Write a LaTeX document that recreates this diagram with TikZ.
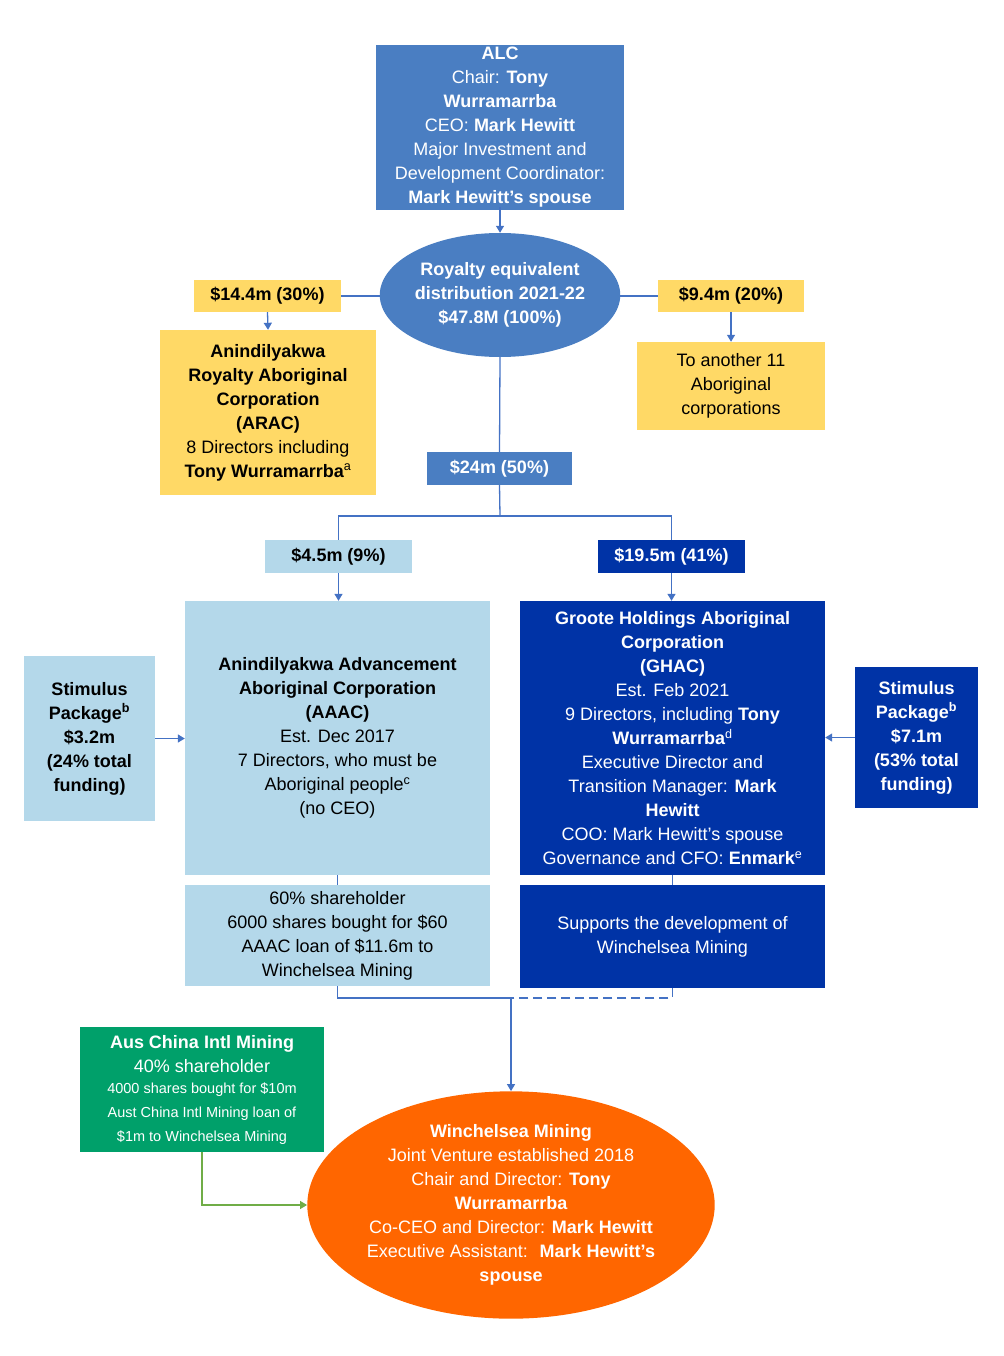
\documentclass[tikz,border=0pt]{standalone}
\usepackage{fontspec}
\setmainfont{Liberation Sans}
\usetikzlibrary{shapes.geometric,arrows.meta}
\definecolor{cALC}{HTML}{4A7EC2}
\definecolor{cYel}{HTML}{FFD966}
\definecolor{cLB}{HTML}{B4D8EA}
\definecolor{cDB}{HTML}{0033A6}
\definecolor{cGr}{HTML}{00A06A}
\definecolor{cOr}{HTML}{FF6600}
\definecolor{cLn}{HTML}{4472C4}
\definecolor{cGl}{HTML}{70AD47}
\begin{document}
\begin{tikzpicture}[x=1pt,y=-1pt,
 txt/.style={font=\fontsize{18}{24}\selectfont,align=center},
 box/.style={txt,draw=none,inner sep=0pt},
 ln/.style={draw=cLn,line width=1.3pt},
 arr/.style={ln,-{Triangle[length=7pt,width=8pt]}}]
\useasboundingbox (0,0) rectangle (1003,1356);
% boxes
\fill[cALC] (376,45) rectangle (624,210);
\node[box,text=white] (alc) at (500,127) {\textbf{ALC}\\Chair: \textbf{Tony}\\\textbf{Wurramarrba}\\CEO: \textbf{Mark Hewitt}\\Major Investment and\\Development Coordinator:\\\textbf{Mark Hewitt's spouse}};
\node[ellipse,fill=cALC,minimum width=216pt,minimum height=124pt,inner sep=0pt,txt,text=white,font=\bfseries\fontsize{18}{24}\selectfont] (roy) at (500,295) {Royalty equivalent\\distribution 2021-22\\\$47.8M (100\%)};
\node[box,fill=cYel,minimum width=147pt,minimum height=32pt,font=\bfseries\fontsize{18}{24}\selectfont] (l14) at (267.5,296) {\$14.4m (30\%)};
\node[box,fill=cYel,minimum width=146pt,minimum height=32pt,font=\bfseries\fontsize{18}{24}\selectfont] (l94) at (731,296) {\$9.4m (20\%)};
\node[box,fill=cYel,minimum width=216pt,minimum height=165pt] (arac) at (268,412.5) {\textbf{Anindilyakwa}\\\textbf{Royalty Aboriginal}\\\textbf{Corporation}\\\textbf{(ARAC)}\\8 Directors including\\\textbf{Tony Wurramarrba}\textsuperscript{a}};
\node[box,fill=cYel,minimum width=188pt,minimum height=88pt] (oth) at (731,386) {To another 11\\Aboriginal\\corporations};
\node[box,fill=cALC,text=white,minimum width=145pt,minimum height=33pt,font=\bfseries\fontsize{18}{24}\selectfont] (l24) at (499.5,468.5) {\$24m (50\%)};
\node[box,fill=cLB,minimum width=147pt,minimum height=33pt,font=\bfseries\fontsize{18}{24}\selectfont] (l45) at (338.5,556.5) {\$4.5m (9\%)};
\node[box,fill=cDB,text=white,minimum width=147pt,minimum height=33pt,font=\bfseries\fontsize{18}{24}\selectfont] (l195) at (671.5,556.5) {\$19.5m (41\%)};
\node[box,fill=cLB,minimum width=305pt,minimum height=274pt] (aaac) at (337.5,738) {\textbf{Anindilyakwa Advancement}\\\textbf{Aboriginal Corporation}\\\textbf{(AAAC)}\\Est. Dec 2017\\7 Directors, who must be\\Aboriginal people\textsuperscript{c}\\(no CEO)};
\node[box,fill=cLB,minimum width=305pt,minimum height=101pt] (aaac2) at (337.5,935.5) {60\% shareholder\\6000 shares bought for \$60\\AAAC loan of \$11.6m to\\Winchelsea Mining};
\node[box,fill=cDB,text=white,minimum width=305pt,minimum height=274pt] (ghac) at (672.5,738) {\textbf{Groote Holdings Aboriginal}\\\textbf{Corporation}\\\textbf{(GHAC)}\\Est. Feb 2021\\9 Directors, including \textbf{Tony}\\\textbf{Wurramarrba}\textsuperscript{d}\\Executive Director and\\Transition Manager: \textbf{Mark}\\\textbf{Hewitt}\\COO: Mark Hewitt's spouse\\Governance and CFO: \textbf{Enmark}\textsuperscript{e}};
\node[box,fill=cDB,text=white,minimum width=305pt,minimum height=103pt] (ghac2) at (672.5,936.5) {Supports the development of\\Winchelsea Mining};
\node[box,fill=cLB,minimum width=131pt,minimum height=165pt,font=\bfseries\fontsize{18}{24}\selectfont] (stl) at (89.5,738.5) {Stimulus\\Package\textsuperscript{b}\\\$3.2m\\(24\% total\\funding)};
\node[box,fill=cDB,text=white,minimum width=123pt,minimum height=141pt,font=\bfseries\fontsize{18}{24}\selectfont] (str) at (916.5,737.5) {Stimulus\\Package\textsuperscript{b}\\\$7.1m\\(53\% total\\funding)};
\node[box,fill=cGr,text=white,minimum width=244pt,minimum height=125pt] (aus) at (202,1089.5) {\textbf{Aus China Intl Mining}\\40\% shareholder\\[-3pt]\fontsize{14.5}{21.5}\selectfont 4000 shares bought for \$10m\\\fontsize{14.5}{21.5}\selectfont Aust China Intl Mining loan of\\\fontsize{14.5}{21.5}\selectfont \$1m to Winchelsea Mining};
\node[ellipse,fill=cOr,text=white,minimum width=382pt,minimum height=210pt,inner sep=0pt,txt] (win) at (511,1205) {\textbf{Winchelsea Mining}\\Joint Venture established 2018\\Chair and Director: \textbf{Tony}\\\textbf{Wurramarrba}\\Co-CEO and Director: \textbf{Mark Hewitt}\\Executive Assistant:~ \textbf{Mark Hewitt's}\\\textbf{spouse}};
% connectors
\draw[arr] (alc.south) -- (roy.north);
\draw[ln] (roy.west|-l14.east) -- (l14.east);
\draw[ln] (roy.east|-l94.west) -- (l94.west);
\draw[arr] (l14.south) -- (arac.north);
\draw[arr] (l94.south) -- (oth.north);
\draw[ln] (roy.south) -- (l24.north);
\coordinate (j1) at (500,516);
\draw[ln] (l24.south) -- (j1);
\draw[ln] (j1) -| (l45.north);
\draw[ln] (j1) -| (l195.north);
\draw[arr] (l45.south) -- (aaac.north-|l45.south);
\draw[arr] (l195.south) -- (ghac.north-|l195.south);
\draw[ln] (aaac.south) -- (aaac2.north);
\draw[ln] (ghac.south) -- (ghac2.north);
\draw[arr] (stl.east) -- (aaac.west|-stl.east);
\draw[arr] (str.west) -- (ghac.east|-str.west);
\coordinate (j2) at (511,998);
\draw[ln] (aaac2.south) |- (j2);
\draw[ln,dash pattern=on 9pt off 5pt] (ghac2.south) |- (j2);
\draw[arr] (j2) -- (win.north);
\draw[draw=cGl,line width=1.3pt,-{Triangle[length=7pt,width=8pt]}] (aus.south) |- (win.west);
\end{tikzpicture}
\end{document}
